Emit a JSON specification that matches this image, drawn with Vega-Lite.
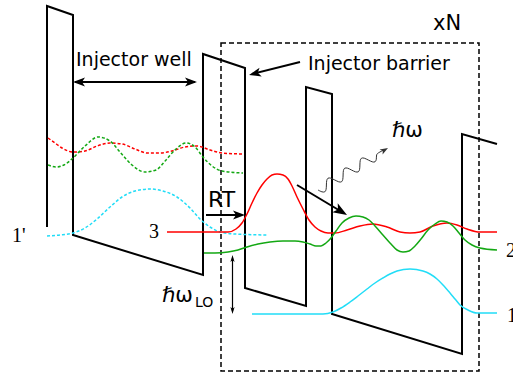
{
  "$schema": "https://vega.github.io/schema/vega-lite/v6.json",
  "width": 513,
  "height": 373,
  "autosize": {"type": "none"},
  "padding": 0,
  "config": {"view": {"stroke": null}},
  "encoding": {
    "x": {"field": "x", "type": "quantitative", "scale": {"domain": [0, 513], "nice": false, "zero": false}, "axis": null},
    "y": {"field": "y", "type": "quantitative", "scale": {"domain": [0, 373], "nice": false, "zero": false, "reverse": true}, "axis": null}
  },
  "layer": [
    {
      "data": {"values": [{"x": 221, "y": 43, "x2": 479, "y2": 371}]},
      "mark": {"type": "rect", "filled": false, "stroke": "black", "strokeWidth": 1.5, "strokeDash": [5, 3]},
      "encoding": {"x2": {"field": "x2"}, "y2": {"field": "y2"}}
    },
    {
      "data": {"values": [
        {"i": 1, "x": 47, "y": 227}, {"i": 2, "x": 47, "y": 6}, {"i": 3, "x": 73, "y": 15}, {"i": 4, "x": 73, "y": 235},
        {"i": 5, "x": 203, "y": 275}, {"i": 6, "x": 203, "y": 54}, {"i": 7, "x": 245, "y": 68}, {"i": 8, "x": 245, "y": 288},
        {"i": 9, "x": 306, "y": 306}, {"i": 10, "x": 306, "y": 87}, {"i": 11, "x": 332, "y": 94}, {"i": 12, "x": 332, "y": 314},
        {"i": 13, "x": 462, "y": 354}, {"i": 14, "x": 462, "y": 134}, {"i": 15, "x": 497, "y": 144}
      ]},
      "mark": {"type": "line", "color": "black", "strokeWidth": 2},
      "encoding": {"order": {"field": "i", "type": "quantitative"}}
    },
    {
      "data": {"values": [
        {"lvl": "3", "x": 48, "y": 138}, {"lvl": "3", "x": 55, "y": 143}, {"lvl": "3", "x": 62, "y": 148}, {"lvl": "3", "x": 73, "y": 152},
        {"lvl": "3", "x": 85, "y": 151}, {"lvl": "3", "x": 97, "y": 146}, {"lvl": "3", "x": 110, "y": 143}, {"lvl": "3", "x": 122, "y": 144},
        {"lvl": "3", "x": 135, "y": 149}, {"lvl": "3", "x": 147, "y": 153}, {"lvl": "3", "x": 160, "y": 153}, {"lvl": "3", "x": 172, "y": 151},
        {"lvl": "3", "x": 185, "y": 147}, {"lvl": "3", "x": 197, "y": 146}, {"lvl": "3", "x": 210, "y": 150}, {"lvl": "3", "x": 222, "y": 153},
        {"lvl": "3", "x": 243, "y": 154},
        {"lvl": "2", "x": 48, "y": 165}, {"lvl": "2", "x": 56, "y": 167}, {"lvl": "2", "x": 64, "y": 165}, {"lvl": "2", "x": 73, "y": 158},
        {"lvl": "2", "x": 85, "y": 146}, {"lvl": "2", "x": 98, "y": 137}, {"lvl": "2", "x": 110, "y": 141}, {"lvl": "2", "x": 120, "y": 152},
        {"lvl": "2", "x": 132, "y": 165}, {"lvl": "2", "x": 145, "y": 172}, {"lvl": "2", "x": 156, "y": 170}, {"lvl": "2", "x": 166, "y": 160},
        {"lvl": "2", "x": 176, "y": 149}, {"lvl": "2", "x": 186, "y": 143}, {"lvl": "2", "x": 195, "y": 147}, {"lvl": "2", "x": 203, "y": 157},
        {"lvl": "2", "x": 212, "y": 166}, {"lvl": "2", "x": 222, "y": 171}, {"lvl": "2", "x": 243, "y": 173},
        {"lvl": "1", "x": 47, "y": 236}, {"lvl": "1", "x": 60, "y": 235}, {"lvl": "1", "x": 73, "y": 233}, {"lvl": "1", "x": 85, "y": 228},
        {"lvl": "1", "x": 97, "y": 219}, {"lvl": "1", "x": 110, "y": 207}, {"lvl": "1", "x": 122, "y": 197}, {"lvl": "1", "x": 135, "y": 191},
        {"lvl": "1", "x": 150, "y": 189}, {"lvl": "1", "x": 163, "y": 191}, {"lvl": "1", "x": 177, "y": 197}, {"lvl": "1", "x": 190, "y": 208},
        {"lvl": "1", "x": 200, "y": 219}, {"lvl": "1", "x": 210, "y": 227}, {"lvl": "1", "x": 220, "y": 232}, {"lvl": "1", "x": 235, "y": 234},
        {"lvl": "1", "x": 267, "y": 235}
      ]},
      "mark": {"type": "line", "strokeWidth": 1.5, "strokeDash": [3, 2], "interpolate": "monotone"},
      "encoding": {
        "color": {"field": "lvl", "type": "nominal", "scale": {"domain": ["3", "2", "1"], "range": ["#ff0000", "#13a813", "#22ddf7"]}, "legend": null}
      }
    },
    {
      "data": {"values": [
        {"lvl": "3", "x": 167, "y": 232}, {"lvl": "3", "x": 228, "y": 232}, {"lvl": "3", "x": 236, "y": 229}, {"lvl": "3", "x": 242, "y": 223},
        {"lvl": "3", "x": 247, "y": 214}, {"lvl": "3", "x": 252, "y": 203}, {"lvl": "3", "x": 257, "y": 193}, {"lvl": "3", "x": 262, "y": 185},
        {"lvl": "3", "x": 267, "y": 179}, {"lvl": "3", "x": 272, "y": 175}, {"lvl": "3", "x": 277, "y": 174}, {"lvl": "3", "x": 283, "y": 175},
        {"lvl": "3", "x": 288, "y": 179}, {"lvl": "3", "x": 292, "y": 186}, {"lvl": "3", "x": 297, "y": 197}, {"lvl": "3", "x": 303, "y": 209},
        {"lvl": "3", "x": 309, "y": 220}, {"lvl": "3", "x": 315, "y": 227}, {"lvl": "3", "x": 321, "y": 231}, {"lvl": "3", "x": 328, "y": 233},
        {"lvl": "3", "x": 335, "y": 233}, {"lvl": "3", "x": 347, "y": 230}, {"lvl": "3", "x": 360, "y": 226}, {"lvl": "3", "x": 373, "y": 224},
        {"lvl": "3", "x": 387, "y": 227}, {"lvl": "3", "x": 400, "y": 232}, {"lvl": "3", "x": 410, "y": 233}, {"lvl": "3", "x": 420, "y": 232},
        {"lvl": "3", "x": 433, "y": 226}, {"lvl": "3", "x": 447, "y": 223}, {"lvl": "3", "x": 457, "y": 225}, {"lvl": "3", "x": 467, "y": 229},
        {"lvl": "3", "x": 480, "y": 232}, {"lvl": "3", "x": 497, "y": 232},
        {"lvl": "2", "x": 204, "y": 253}, {"lvl": "2", "x": 215, "y": 253}, {"lvl": "2", "x": 228, "y": 252}, {"lvl": "2", "x": 238, "y": 250},
        {"lvl": "2", "x": 247, "y": 247}, {"lvl": "2", "x": 258, "y": 244}, {"lvl": "2", "x": 270, "y": 242}, {"lvl": "2", "x": 283, "y": 241},
        {"lvl": "2", "x": 295, "y": 241}, {"lvl": "2", "x": 303, "y": 242}, {"lvl": "2", "x": 310, "y": 244}, {"lvl": "2", "x": 316, "y": 246},
        {"lvl": "2", "x": 321, "y": 246}, {"lvl": "2", "x": 326, "y": 243}, {"lvl": "2", "x": 331, "y": 238}, {"lvl": "2", "x": 336, "y": 231},
        {"lvl": "2", "x": 342, "y": 223}, {"lvl": "2", "x": 349, "y": 218}, {"lvl": "2", "x": 356, "y": 216}, {"lvl": "2", "x": 363, "y": 217},
        {"lvl": "2", "x": 369, "y": 220}, {"lvl": "2", "x": 375, "y": 226}, {"lvl": "2", "x": 382, "y": 234}, {"lvl": "2", "x": 390, "y": 243},
        {"lvl": "2", "x": 397, "y": 250}, {"lvl": "2", "x": 403, "y": 252}, {"lvl": "2", "x": 409, "y": 251}, {"lvl": "2", "x": 415, "y": 246},
        {"lvl": "2", "x": 421, "y": 239}, {"lvl": "2", "x": 428, "y": 230}, {"lvl": "2", "x": 435, "y": 224}, {"lvl": "2", "x": 441, "y": 221},
        {"lvl": "2", "x": 447, "y": 222}, {"lvl": "2", "x": 453, "y": 226}, {"lvl": "2", "x": 459, "y": 233}, {"lvl": "2", "x": 465, "y": 240},
        {"lvl": "2", "x": 472, "y": 245}, {"lvl": "2", "x": 480, "y": 248}, {"lvl": "2", "x": 497, "y": 250},
        {"lvl": "1", "x": 252, "y": 314}, {"lvl": "1", "x": 323, "y": 314}, {"lvl": "1", "x": 333, "y": 312}, {"lvl": "1", "x": 341, "y": 308},
        {"lvl": "1", "x": 350, "y": 302}, {"lvl": "1", "x": 358, "y": 296}, {"lvl": "1", "x": 367, "y": 289}, {"lvl": "1", "x": 375, "y": 283},
        {"lvl": "1", "x": 383, "y": 278}, {"lvl": "1", "x": 390, "y": 274}, {"lvl": "1", "x": 397, "y": 271}, {"lvl": "1", "x": 410, "y": 269},
        {"lvl": "1", "x": 423, "y": 271}, {"lvl": "1", "x": 430, "y": 274}, {"lvl": "1", "x": 437, "y": 279}, {"lvl": "1", "x": 443, "y": 285},
        {"lvl": "1", "x": 450, "y": 293}, {"lvl": "1", "x": 455, "y": 299}, {"lvl": "1", "x": 460, "y": 305}, {"lvl": "1", "x": 468, "y": 310},
        {"lvl": "1", "x": 477, "y": 313}, {"lvl": "1", "x": 497, "y": 313}
      ]},
      "mark": {"type": "line", "strokeWidth": 1.5, "interpolate": "monotone"},
      "encoding": {
        "color": {"field": "lvl", "type": "nominal", "scale": {"domain": ["3", "2", "1"], "range": ["#ff0000", "#13a813", "#22ddf7"]}, "legend": null}
      }
    },
    {
      "data": {"values": [
        {"x": 318, "y": 190}, {"x": 321.9, "y": 191.8}, {"x": 324.8, "y": 191.8}, {"x": 326.1, "y": 189.3}, {"x": 326.4, "y": 185},
        {"x": 326.7, "y": 180.7}, {"x": 328.0, "y": 178.2}, {"x": 330.8, "y": 178.2}, {"x": 334.8, "y": 180}, {"x": 338.7, "y": 181.8},
        {"x": 341.5, "y": 181.8}, {"x": 342.8, "y": 179.3}, {"x": 343.1, "y": 175}, {"x": 343.4, "y": 170.7}, {"x": 344.7, "y": 168.2},
        {"x": 347.6, "y": 168.2}, {"x": 351.5, "y": 170}, {"x": 355.4, "y": 171.8}, {"x": 358.3, "y": 171.8}, {"x": 359.6, "y": 169.3},
        {"x": 359.9, "y": 165}, {"x": 360.2, "y": 160.7}, {"x": 361.5, "y": 158.2}, {"x": 364.3, "y": 158.2}, {"x": 368.3, "y": 160},
        {"x": 372.2, "y": 161.8}, {"x": 375.0, "y": 161.8}, {"x": 376.3, "y": 159.3}, {"x": 376.6, "y": 155}, {"x": 378.5, "y": 152.8},
        {"x": 384, "y": 150}
      ]},
      "mark": {"type": "line", "color": "#333333", "strokeWidth": 1, "interpolate": "cardinal"}
    },
    {
      "data": {"values": [
        {"x": 75, "y": 82, "x2": 195, "y2": 82},
        {"x": 300, "y": 62, "x2": 252, "y2": 74},
        {"x": 206, "y": 215, "x2": 240, "y2": 215},
        {"x": 297, "y": 185, "x2": 342, "y2": 212}
      ]},
      "mark": {"type": "rule", "color": "black", "strokeWidth": 2},
      "encoding": {"x2": {"field": "x2"}, "y2": {"field": "y2"}}
    },
    {
      "data": {"values": [{"x": 232.5, "y": 258, "x2": 232.5, "y2": 311}]},
      "mark": {"type": "rule", "color": "black", "strokeWidth": 1.2},
      "encoding": {"x2": {"field": "x2"}, "y2": {"field": "y2"}}
    },
    {
      "data": {"values": [{"x": 197, "y": 82}, {"x": 245, "y": 215}]},
      "mark": {"type": "point", "shape": "M0,0L-2,-0.75L-1.5,0L-2,0.75Z", "filled": true, "color": "black", "opacity": 1, "size": 144, "angle": 0}
    },
    {
      "data": {"values": [{"x": 73, "y": 82}]},
      "mark": {"type": "point", "shape": "M0,0L-2,-0.75L-1.5,0L-2,0.75Z", "filled": true, "color": "black", "opacity": 1, "size": 144, "angle": 180}
    },
    {
      "data": {"values": [{"x": 249, "y": 75}]},
      "mark": {"type": "point", "shape": "M0,0L-2,-0.75L-1.5,0L-2,0.75Z", "filled": true, "color": "black", "opacity": 1, "size": 144, "angle": 166}
    },
    {
      "data": {"values": [{"x": 347, "y": 215}]},
      "mark": {"type": "point", "shape": "M0,0L-2,-0.75L-1.5,0L-2,0.75Z", "filled": true, "color": "black", "opacity": 1, "size": 196, "angle": 31}
    },
    {
      "data": {"values": [{"x": 388, "y": 148}]},
      "mark": {"type": "point", "shape": "M0,0L-2,-0.75L-1.5,0L-2,0.75Z", "filled": true, "color": "#333333", "opacity": 1, "size": 64, "angle": 330}
    },
    {
      "data": {"values": [{"x": 232.5, "y": 255}]},
      "mark": {"type": "point", "shape": "M0,0L-2,-0.6L-1.5,0L-2,0.6Z", "filled": true, "color": "black", "opacity": 1, "size": 49, "angle": 270}
    },
    {
      "data": {"values": [{"x": 232.5, "y": 314}]},
      "mark": {"type": "point", "shape": "M0,0L-2,-0.6L-1.5,0L-2,0.6Z", "filled": true, "color": "black", "opacity": 1, "size": 49, "angle": 90}
    },
    {
      "data": {"values": [{"t": "Injector well", "x": 76, "y": 66}, {"t": "Injector barrier", "x": 308, "y": 70}]},
      "mark": {"type": "text", "font": "DejaVu Sans", "fontSize": 19, "align": "left", "baseline": "alphabetic", "color": "black"},
      "encoding": {"text": {"field": "t"}}
    },
    {
      "data": {"values": [{"t": "xN", "x": 433, "y": 30}, {"t": "ℏω", "x": 392, "y": 137}, {"t": "ℏω", "x": 162, "y": 302}]},
      "mark": {"type": "text", "font": "DejaVu Sans", "fontSize": 21, "align": "left", "baseline": "alphabetic", "color": "black"},
      "encoding": {"text": {"field": "t"}}
    },
    {
      "data": {"values": [{"t": "RT", "x": 208, "y": 207}]},
      "mark": {"type": "text", "font": "DejaVu Sans", "fontSize": 22, "align": "left", "baseline": "alphabetic", "color": "black"},
      "encoding": {"text": {"field": "t"}}
    },
    {
      "data": {"values": [{"t": "LO", "x": 195, "y": 307}]},
      "mark": {"type": "text", "font": "DejaVu Sans", "fontSize": 14, "align": "left", "baseline": "alphabetic", "color": "black"},
      "encoding": {"text": {"field": "t"}}
    },
    {
      "data": {"values": [{"t": "3", "x": 149, "y": 238}, {"t": "1'", "x": 12, "y": 242}, {"t": "2", "x": 506, "y": 257}, {"t": "1", "x": 507, "y": 322}]},
      "mark": {"type": "text", "font": "Liberation Serif", "fontSize": 20, "align": "left", "baseline": "alphabetic", "color": "black"},
      "encoding": {"text": {"field": "t"}}
    }
  ]
}
